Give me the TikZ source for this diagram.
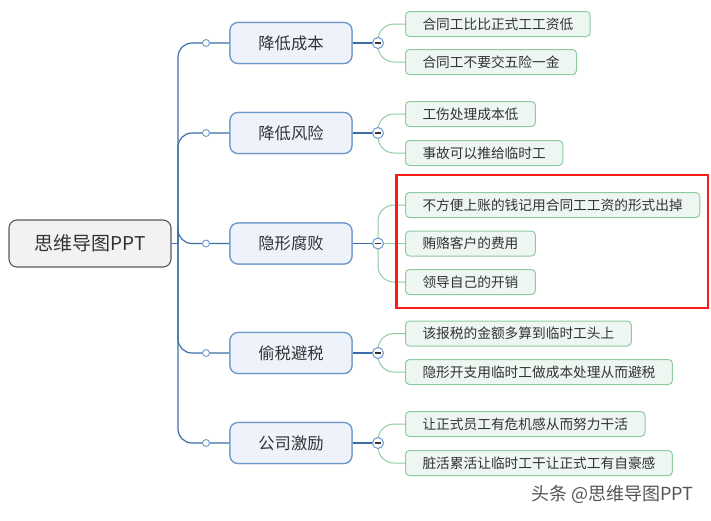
\documentclass[tikz,border=0pt]{standalone}
\usepackage{fontspec}
\setmainfont{Noto Sans CJK SC}
\begin{document}
\begin{tikzpicture}[x=1pt,y=-1pt,
  rootbox/.style={draw=rootline,fill=rootfill,line width=1.1pt,rounded corners=8pt,minimum width=162pt,minimum height=47pt,font=\fontsize{19}{22}\selectfont,text=textc,inner sep=0pt},
  mainbox/.style={draw=mainline,fill=mainfill,line width=1.2pt,rounded corners=8pt,minimum width=122pt,minimum height=41pt,font=\fontsize{16.3}{19}\selectfont,text=textc,inner sep=0pt},
  leafbox/.style={draw=leafline,fill=leaffill,line width=1pt,rounded corners=4pt,minimum height=25pt,anchor=west,inner xsep=17pt,inner ysep=0pt,font=\fontsize{13.7}{16}\selectfont,text=textc},
  trunk/.style={draw=trunkc,line width=1.2pt},
  twig/.style={draw=leafline,line width=1pt},
  knob/.style={circle,draw=mainline,fill=white,line width=0.9pt,minimum size=7pt,inner sep=0pt},
  fold/.style={circle,draw=mainline,fill=white,line width=1pt,minimum size=11pt,inner sep=0pt},
]
\definecolor{rootline}{HTML}{5A5A5A}
\definecolor{rootfill}{HTML}{F2F2F2}
\definecolor{mainline}{HTML}{6C98CB}
\definecolor{mainfill}{HTML}{EEF3FB}
\definecolor{leafline}{HTML}{8FCBA2}
\definecolor{leaffill}{HTML}{EEF6F1}
\definecolor{trunkc}{HTML}{3C6FA8}
\definecolor{textc}{HTML}{333333}
\definecolor{redc}{HTML}{FF1A1A}
\definecolor{wmc}{HTML}{555555}
\useasboundingbox[fill=white] (0,0) rectangle (711,520);

\node[rootbox] (root) at (90,243.5) {思维导图PPT};
\coordinate (hub) at (178,243.5);
\draw[trunk] (root.east) -- (hub);

\foreach \n/\y in {m1/43, m2/133, m3/243.5, m4/353, m5/443}{
  \node[mainbox] (\n) at (291,\y) {};
  \draw[trunk,rounded corners=14pt] (hub) -- (hub |- \n.west) -- (\n.west);
  \coordinate (f\n) at (378,\y);
  \draw[trunk] (\n.east) -- (f\n);
}

% leaves
\node[leafbox] (l11) at (405,24) {合同工比比正式工工资低};
\node[leafbox] (l12) at (405,62) {合同工不要交五险一金};
\node[leafbox] (l21) at (405,114) {工伤处理成本低};
\node[leafbox] (l22) at (405,153) {事故可以推给临时工};
\node[leafbox] (l31) at (405,205) {不方便上账的钱记用合同工工资的形式出掉};
\node[leafbox] (l32) at (405,243.5) {贿赂客户的费用};
\node[leafbox] (l33) at (405,282) {领导自己的开销};
\node[leafbox] (l41) at (405,333.5) {该报税的金额多算到临时工头上};
\node[leafbox] (l42) at (405,372) {隐形开支用临时工做成本处理从而避税};
\node[leafbox] (l51) at (405,424) {让正式员工有危机感从而努力干活};
\node[leafbox] (l52) at (405,463) {脏活累活让临时工干让正式工有自豪感};

\foreach \f/\l in {fm1/l11, fm1/l12, fm2/l21, fm2/l22, fm3/l31, fm3/l33, fm4/l41, fm4/l42, fm5/l51, fm5/l52}{
  \draw[twig,rounded corners=16pt] (\f) -- (\f |- \l.west) -- (\l.west);
}
\draw[twig] (fm3) -- (l32.west);

\foreach \n in {m1,m2,m3,m4,m5}{
  \node[knob] (k\n) at (206,0 |- \n) {};
  \node[fold] (c\n) at (f\n) {};
  \draw[textc,line width=1.3pt] ([xshift=-2.8pt]c\n.center) -- ([xshift=2.8pt]c\n.center);
}
\node[mainbox] at (m1) {降低成本};
\node[mainbox] at (m2) {降低风险};
\node[mainbox] at (m3) {隐形腐败};
\node[mainbox] at (m4) {偷税避税};
\node[mainbox] at (m5) {公司激励};

\draw[redc,line width=2.8pt] (396.5,175) rectangle (708,308);

\node[anchor=east,text=wmc,font=\fontsize{18}{21}\selectfont] (wm) at (697,494) {头条 @思维导图PPT};
\end{tikzpicture}
\end{document}
